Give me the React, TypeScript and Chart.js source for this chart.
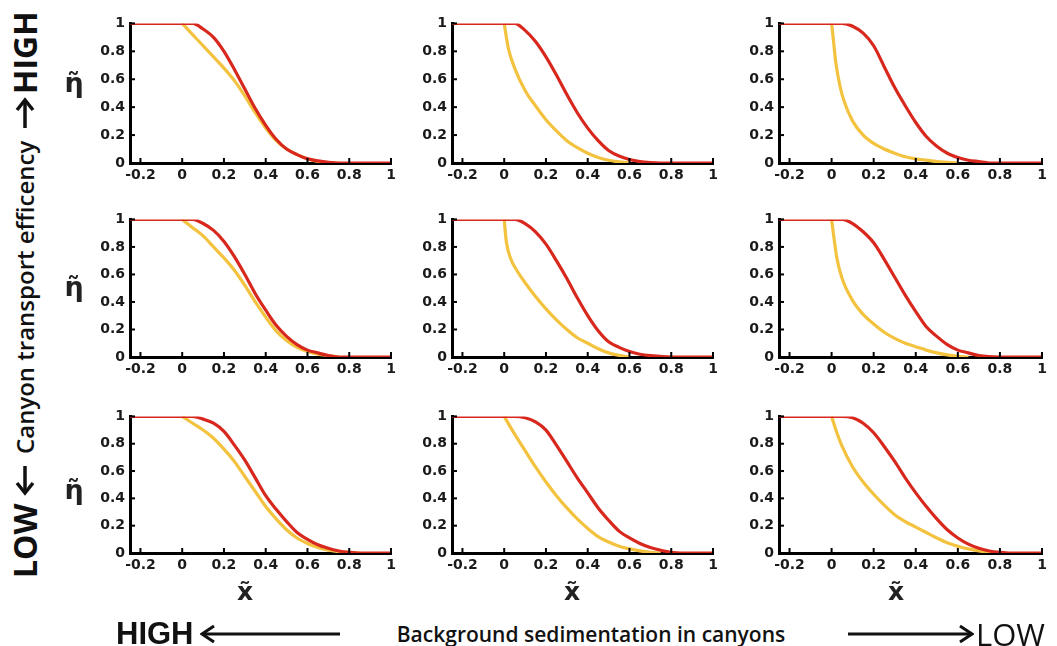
import React, { useEffect, useRef } from "react";
import { Chart, registerables } from "chart.js";

Chart.register(...registerables);

// ---------- data ----------
const X_TICKS = [-0.2, 0, 0.2, 0.4, 0.6, 0.8, 1];
const Y_TICKS = [0, 0.2, 0.4, 0.6, 0.8, 1];
const X_MIN = -0.25;
const X_MAX = 1;

// row 1 (high canyon transport efficiency)
const red_r1c1 = [[-0.25,1],[0,1],[0.05,1],[0.1,0.96],[0.15,0.9],[0.2,0.8],[0.25,0.67],[0.3,0.53],[0.35,0.39],[0.4,0.27],[0.45,0.17],[0.5,0.1],[0.55,0.06],[0.6,0.03],[0.65,0.015],[0.7,0.005],[0.75,0],[1,0]];
const yel_r1c1 = [[0,1],[0.05,0.92],[0.1,0.84],[0.15,0.76],[0.2,0.68],[0.25,0.59],[0.3,0.48],[0.35,0.36],[0.4,0.25],[0.45,0.16],[0.5,0.1],[0.55,0.06],[0.6,0.03],[0.65,0.012],[0.7,0.003],[0.75,0]];
const red_r1c2 = [[-0.25,1],[0,1],[0.05,1],[0.1,0.95],[0.15,0.87],[0.2,0.76],[0.25,0.63],[0.3,0.49],[0.35,0.36],[0.4,0.25],[0.45,0.16],[0.5,0.09],[0.55,0.05],[0.6,0.025],[0.65,0.01],[0.7,0.003],[0.75,0],[1,0]];
const yel_r1c2 = [[0,1],[0.02,0.82],[0.05,0.68],[0.1,0.52],[0.15,0.41],[0.2,0.31],[0.25,0.23],[0.3,0.16],[0.35,0.11],[0.4,0.07],[0.45,0.04],[0.5,0.02],[0.55,0.008],[0.6,0]];
const red_r1c3 = [[-0.25,1],[0,1],[0.05,1],[0.1,0.98],[0.15,0.93],[0.2,0.84],[0.25,0.69],[0.3,0.54],[0.35,0.41],[0.4,0.29],[0.45,0.19],[0.5,0.12],[0.55,0.07],[0.6,0.04],[0.65,0.02],[0.7,0.01],[0.75,0],[1,0]];
const yel_r1c3 = [[0,1],[0.01,0.86],[0.02,0.72],[0.04,0.55],[0.06,0.44],[0.1,0.3],[0.15,0.2],[0.2,0.14],[0.25,0.1],[0.3,0.07],[0.35,0.045],[0.4,0.03],[0.45,0.02],[0.5,0.01],[0.55,0.005],[0.6,0]];

// row 2
const red_r2c1 = [[-0.25,1],[0,1],[0.05,1],[0.1,0.97],[0.15,0.92],[0.2,0.84],[0.25,0.73],[0.3,0.6],[0.35,0.46],[0.4,0.34],[0.45,0.23],[0.5,0.15],[0.55,0.09],[0.6,0.05],[0.65,0.03],[0.7,0.01],[0.75,0],[1,0]];
const yel_r2c1 = [[0,1],[0.05,0.94],[0.1,0.88],[0.15,0.8],[0.2,0.72],[0.25,0.63],[0.3,0.52],[0.35,0.4],[0.4,0.29],[0.45,0.19],[0.5,0.12],[0.55,0.07],[0.6,0.04],[0.65,0.02],[0.7,0.01],[0.75,0]];
const red_r2c2 = [[-0.25,1],[0,1],[0.05,1],[0.1,0.97],[0.15,0.91],[0.2,0.82],[0.25,0.7],[0.3,0.57],[0.35,0.43],[0.4,0.3],[0.45,0.19],[0.5,0.11],[0.55,0.07],[0.6,0.04],[0.65,0.02],[0.7,0.01],[0.8,0],[1,0]];
const yel_r2c2 = [[0,1],[0.01,0.84],[0.03,0.72],[0.06,0.63],[0.1,0.54],[0.15,0.44],[0.2,0.35],[0.25,0.27],[0.3,0.2],[0.35,0.14],[0.4,0.1],[0.45,0.06],[0.5,0.03],[0.55,0.012],[0.6,0]];
const red_r2c3 = [[-0.25,1],[0,1],[0.05,1],[0.1,0.97],[0.15,0.91],[0.2,0.83],[0.25,0.71],[0.3,0.58],[0.35,0.45],[0.4,0.33],[0.45,0.22],[0.5,0.15],[0.55,0.09],[0.6,0.05],[0.65,0.03],[0.7,0.01],[0.8,0],[1,0]];
const yel_r2c3 = [[0,1],[0.01,0.88],[0.025,0.72],[0.05,0.57],[0.1,0.41],[0.15,0.31],[0.2,0.24],[0.25,0.18],[0.3,0.135],[0.35,0.1],[0.4,0.075],[0.45,0.05],[0.5,0.03],[0.55,0.015],[0.6,0.005],[0.65,0]];

// row 3 (low canyon transport efficiency)
const red_r3c1 = [[-0.25,1],[0,1],[0.05,1],[0.1,0.98],[0.15,0.95],[0.2,0.89],[0.25,0.79],[0.3,0.68],[0.35,0.55],[0.4,0.42],[0.45,0.32],[0.5,0.23],[0.55,0.15],[0.6,0.1],[0.65,0.06],[0.7,0.035],[0.75,0.015],[0.8,0.005],[0.85,0],[1,0]];
const yel_r3c1 = [[0,1],[0.05,0.95],[0.1,0.9],[0.15,0.84],[0.2,0.76],[0.25,0.67],[0.3,0.56],[0.35,0.45],[0.4,0.34],[0.45,0.25],[0.5,0.17],[0.55,0.11],[0.6,0.07],[0.65,0.04],[0.7,0.02],[0.75,0.01],[0.8,0.005],[0.85,0]];
const red_r3c2 = [[-0.25,1],[0,1],[0.05,1],[0.1,0.99],[0.15,0.96],[0.2,0.9],[0.25,0.79],[0.3,0.67],[0.35,0.55],[0.4,0.44],[0.45,0.33],[0.5,0.24],[0.55,0.16],[0.6,0.11],[0.65,0.07],[0.7,0.04],[0.75,0.02],[0.8,0.005],[0.85,0],[1,0]];
const yel_r3c2 = [[0,1],[0.05,0.87],[0.1,0.75],[0.15,0.63],[0.2,0.52],[0.25,0.42],[0.3,0.33],[0.35,0.25],[0.4,0.18],[0.45,0.12],[0.5,0.08],[0.55,0.05],[0.6,0.03],[0.65,0.015],[0.7,0.005],[0.75,0]];
const red_r3c3 = [[-0.25,1],[0,1],[0.05,1],[0.1,0.99],[0.15,0.95],[0.2,0.88],[0.25,0.78],[0.3,0.67],[0.35,0.55],[0.4,0.44],[0.45,0.34],[0.5,0.25],[0.55,0.17],[0.6,0.11],[0.65,0.065],[0.7,0.035],[0.75,0.015],[0.8,0.005],[0.85,0],[1,0]];
const yel_r3c3 = [[0,1],[0.025,0.88],[0.05,0.78],[0.1,0.63],[0.15,0.52],[0.2,0.43],[0.25,0.35],[0.3,0.28],[0.35,0.23],[0.4,0.19],[0.45,0.15],[0.5,0.11],[0.55,0.075],[0.6,0.05],[0.65,0.03],[0.7,0.015],[0.75,0.005],[0.8,0]];

const PANELS = [
  [red_r1c1, yel_r1c1], [red_r1c2, yel_r1c2], [red_r1c3, yel_r1c3],
  [red_r2c1, yel_r2c1], [red_r2c2, yel_r2c2], [red_r2c3, yel_r2c3],
  [red_r3c1, yel_r3c1], [red_r3c2, yel_r3c2], [red_r3c3, yel_r3c3],
];

// ---------- layout / style ----------
const COL_L = [130, 452, 779];
const COL_R = [391, 713, 1042];
const ROW_T = [22, 218, 415];
const ROW_B = [163, 357, 553];
const PAD_L = 50, PAD_T = 12, PAD_R = 14, PAD_B = 24;
const RED = "#d8281e";
const YELLOW = "#f3c23f";
const TICK_FONT = { family: "'DejaVu Sans', sans-serif", weight: "bold" as const, size: 14 };

const inwardTicks = {
  id: "inwardTicks",
  afterDraw(chart: any) {
    const { ctx, chartArea, scales } = chart;
    ctx.save();
    ctx.strokeStyle = "#000";
    ctx.lineWidth = 2;
    scales.x.ticks.forEach((t: any) => {
      const px = scales.x.getPixelForValue(t.value);
      ctx.beginPath();
      ctx.moveTo(px, chartArea.bottom);
      ctx.lineTo(px, chartArea.bottom - 5);
      ctx.stroke();
    });
    scales.y.ticks.forEach((t: any) => {
      const py = scales.y.getPixelForValue(t.value);
      ctx.beginPath();
      ctx.moveTo(chartArea.left, py);
      ctx.lineTo(chartArea.left + 5, py);
      ctx.stroke();
    });
    ctx.restore();
  },
};

function Panel({ idx }: { idx: number }) {
  const ref = useRef<HTMLCanvasElement>(null);
  const r = Math.floor(idx / 3);
  const c = idx % 3;
  const w = COL_R[c] - COL_L[c] + PAD_L + PAD_R;
  const h = ROW_B[r] - ROW_T[r] + PAD_T + PAD_B;
  useEffect(() => {
    const [red, yel] = PANELS[idx];
    const chart = new Chart(ref.current!, {
      type: "line",
      data: {
        datasets: [
          {
            data: red.map(([x, y]) => ({ x, y })),
            borderColor: RED,
            borderWidth: 3.2,
            pointRadius: 0,
            cubicInterpolationMode: "monotone",
            fill: false,
          },
          {
            data: yel.map(([x, y]) => ({ x, y })),
            borderColor: YELLOW,
            borderWidth: 3.2,
            pointRadius: 0,
            cubicInterpolationMode: "monotone",
            fill: false,
          },
        ],
      },
      options: {
        animation: false,
        responsive: false,
        layout: { padding: { left: 0, top: PAD_T, right: PAD_R, bottom: 0 } },
        plugins: { legend: { display: false }, tooltip: { enabled: false } },
        scales: {
          x: {
            type: "linear",
            min: X_MIN,
            max: X_MAX,
            afterBuildTicks: (s: any) => { s.ticks = X_TICKS.map((v) => ({ value: v })); },
            afterFit: (s: any) => { s.height = PAD_B; },
            grid: { display: true, drawOnChartArea: false, drawTicks: false },
            border: { display: true, color: "#000", width: 3 },
            ticks: {
              font: TICK_FONT, color: "#1a1a1a", padding: 4, autoSkip: false, maxRotation: 0,
              callback: (v: any) => String(v),
            },
          },
          y: {
            type: "linear",
            min: 0,
            max: 1,
            afterBuildTicks: (s: any) => { s.ticks = Y_TICKS.map((v) => ({ value: v })); },
            afterFit: (s: any) => { s.width = PAD_L; },
            grid: { display: true, drawOnChartArea: false, drawTicks: false },
            border: { display: true, color: "#000", width: 3 },
            ticks: {
              font: TICK_FONT, color: "#1a1a1a", padding: 5, autoSkip: false,
              callback: (v: any) => String(v),
            },
          },
        },
      },
      plugins: [inwardTicks],
    });
    return () => chart.destroy();
  }, [idx]);
  return (
    <div style={{ position: "absolute", left: COL_L[c] - PAD_L, top: ROW_T[r] - PAD_T, width: w, height: h }}>
      <canvas ref={ref} width={w} height={h} style={{ width: w, height: h, display: "block" }} />
    </div>
  );
}

function ArrowSvg({ left, top, width, dir }: { left: number; top: number; width: number; dir: "left" | "right" }) {
  const hgt = 20;
  const y = hgt / 2;
  const tip = dir === "left" ? 2 : width - 2;
  const back = dir === "left" ? 14 : width - 14;
  return (
    <svg style={{ position: "absolute", left, top: top - hgt / 2 }} width={width} height={hgt}>
      <line x1={2} y1={y} x2={width - 2} y2={y} stroke="#111" strokeWidth={3} />
      <polyline points={`${back},${y - 8} ${tip},${y} ${back},${y + 8}`} fill="none" stroke="#111" strokeWidth={3} />
    </svg>
  );
}

const seg = (left: number): React.CSSProperties => ({ position: "absolute", left, top: 0, height: 44, lineHeight: "44px", whiteSpace: "nowrap" });

export default function App() {
  const etaY = [83, 287, 490];
  const xtX = [245, 572, 896];
  return (
    <div style={{ position: "absolute", left: 0, top: 0, width: 1057, height: 646, background: "#fff", overflow: "hidden" }}>
      {PANELS.map((_, i) => <Panel key={i} idx={i} />)}
      {etaY.map((y, i) => (
        <div key={"eta" + i} style={{ position: "absolute", left: 58, top: y - 20, width: 32, height: 40, lineHeight: "40px", textAlign: "center", fontFamily: "'DejaVu Sans', sans-serif", fontWeight: "bold", fontSize: 27, color: "#222" }}>
          {"\u03b7\u0303"}
        </div>
      ))}
      {xtX.map((x, i) => (
        <div key={"xt" + i} style={{ position: "absolute", left: x - 16, top: 574, width: 32, height: 36, lineHeight: "36px", textAlign: "center", fontFamily: "'DejaVu Sans', sans-serif", fontWeight: "bold", fontSize: 25, color: "#222" }}>
          {"x\u0303"}
        </div>
      ))}
      {/* left vertical label (reads bottom to top) */}
      <div style={{ position: "absolute", left: 25 - 283, top: 295 - 22, width: 566, height: 44, transform: "rotate(-90deg)", transformOrigin: "50% 50%", color: "#111", fontFamily: "'Open Sans', sans-serif" }}>
        <span style={{ ...seg(0), fontSize: 32, fontWeight: 700 }}>LOW</span>
        <svg style={{ position: "absolute", left: 82, top: 12 }} width={32} height={20}>
          <line x1={3} y1={10} x2={30} y2={10} stroke="#111" strokeWidth={3.5} />
          <polyline points="13,2 3,10 13,18" fill="none" stroke="#111" strokeWidth={3.5} />
        </svg>
        <span style={{ ...seg(124), fontSize: 24, fontWeight: 600 }}>Canyon transport efficency</span>
        <svg style={{ position: "absolute", left: 449, top: 12 }} width={32} height={20}>
          <line x1={1} y1={10} x2={29} y2={10} stroke="#111" strokeWidth={3.5} />
          <polyline points="19,2 29,10 19,18" fill="none" stroke="#111" strokeWidth={3.5} />
        </svg>
        <span style={{ ...seg(484), fontSize: 32, fontWeight: 700 }}>HIGH</span>
      </div>
      {/* bottom labels */}
      <div style={{ position: "absolute", left: 116, top: 614, height: 40, lineHeight: "40px", fontFamily: "'Liberation Sans', Arial, sans-serif", fontWeight: "bold", fontSize: 31, color: "#111" }}>HIGH</div>
      <ArrowSvg left={200} top={634} width={142} dir="left" />
      <div style={{ position: "absolute", left: 383, top: 617, width: 416, height: 34, lineHeight: "34px", textAlign: "center", fontFamily: "'Open Sans', sans-serif", fontWeight: 600, fontSize: 21, color: "#111", whiteSpace: "nowrap" }}>
        Background sedimentation in canyons
      </div>
      <ArrowSvg left={846} top={634} width={128} dir="right" />
      <div style={{ position: "absolute", left: 976, top: 613, height: 42, lineHeight: "42px", fontFamily: "'Open Sans', sans-serif", fontWeight: 400, fontSize: 31, color: "#111" }}>LOW</div>
    </div>
  );
}
